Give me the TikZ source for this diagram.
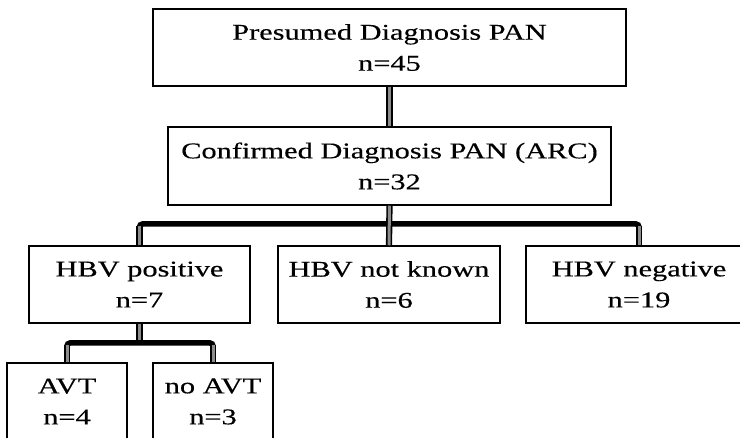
\documentclass[tikz,border=0pt]{standalone}
\usepackage{fontspec}
\usepackage{graphicx}
\setmainfont[FakeBold=0.3]{Liberation Serif}
\newcommand{\sx}[1]{\scalebox{1.35}[1]{#1}}
\begin{document}
\begin{tikzpicture}[x=1pt,y=-1pt,
  box/.style={draw=black,line width=1.5pt,rectangle,inner sep=0pt,align=center,
    font=\fontsize{22.5}{31}\selectfont},
  barline/.style={draw=black,line width=5.5pt,rounded corners=3pt},
  stem/.style={draw=black,line width=1.6pt,double=black!45,double distance=3pt},
]
\useasboundingbox (0,0) rectangle (740,438);
\fill[white] (0,0) rectangle (740,438);

\node[box,minimum width=473pt,minimum height=77pt] (top) at (389.5,47.5) {\sx{Presumed Diagnosis PAN}\\\sx{n=45}};
\node[box,minimum width=443pt,minimum height=78pt] (conf) at (389.5,166) {\sx{Confirmed Diagnosis PAN (ARC)}\\\sx{n=32}};
\node[box,minimum width=221pt,minimum height=77pt] (hpos) at (139.5,284.5) {\sx{HBV positive}\\\sx{n=7}};
\node[box,minimum width=222pt,minimum height=77pt] (hnk) at (389,284.5) {\sx{HBV not known}\\\sx{n=6}};
\node[box,minimum width=226pt,minimum height=77pt] (hneg) at (639,284.5) {\sx{HBV negative}\\\sx{n=19}};
\node[box,minimum width=120pt,minimum height=77pt] (avt) at (67,401.5) {\sx{AVT}\\\sx{n=4}};
\node[box,minimum width=120pt,minimum height=77pt] (navt) at (213,401.5) {\sx{no AVT}\\\sx{n=3}};

\coordinate (bar) at (0,224);
\coordinate (bartwo) at (0,343);

% top to confirmed
\draw[stem] (top.south) -- (conf.north);

% confirmed to three HBV groups
\draw[barline] (hpos.north) -- (hpos.north |- bar) -- (hneg.north |- bar) -- (hneg.north);
\draw[stem] (hpos.north) -- ([yshift=-2pt]hpos.north |- bar);
\draw[stem] (hneg.north) -- ([yshift=-2pt]hneg.north |- bar);
\draw[stem] (conf.south) -- (hnk.north);

% HBV positive to AVT groups
\draw[stem] (hpos.south) -- ([yshift=2pt]hpos.south |- bartwo);
\draw[barline] (avt.north) -- (avt.north |- bartwo) -- (navt.north |- bartwo) -- (navt.north);
\draw[stem] (avt.north) -- ([yshift=-2pt]avt.north |- bartwo);
\draw[stem] (navt.north) -- ([yshift=-2pt]navt.north |- bartwo);
\end{tikzpicture}
\end{document}
